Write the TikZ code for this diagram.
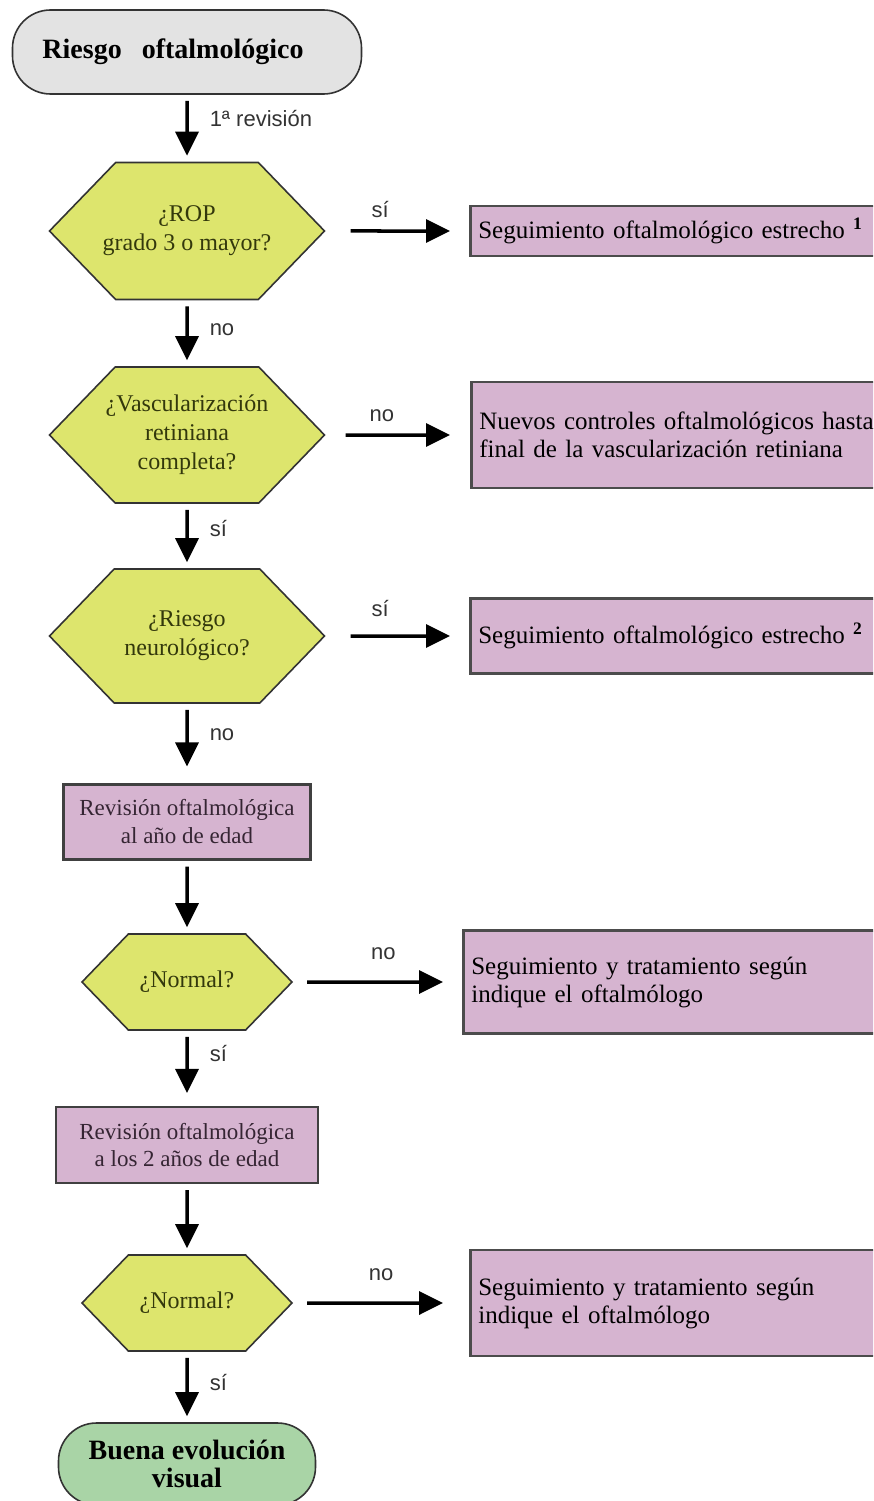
\documentclass[tikz,border=0pt]{standalone}
\usepackage{fontspec}
\setmainfont{Liberation Serif}
\setsansfont{Liberation Sans}
\usetikzlibrary{arrows.meta, shapes.symbols}

\definecolor{grisclaro}{HTML}{E3E3E3}
\definecolor{amarillo}{HTML}{DDE56D}
\definecolor{lila}{HTML}{D6B4D0}
\definecolor{verde}{HTML}{A9D4A6}
\definecolor{oliva}{HTML}{33380C}
\definecolor{moradoosc}{HTML}{352533}

\begin{document}
\begin{tikzpicture}[x=1pt, y=-1pt]
\useasboundingbox (0, 0) rectangle (873, 1501);
\clip (0, 0) rectangle (873, 1501);

\begin{scope}[every node/.style={draw=black!80, line width=1.6pt},
              terminal/.style={shape=rectangle, rounded corners=38pt, align=center, font=\bfseries\fontsize{28}{28}\selectfont},
              hexa/.style={shape=signal, signal to=west and east, signal pointer angle=92, fill=amarillo, text=oliva, align=center, inner sep=0pt, font=\fontsize{24}{29}\selectfont},
              cajaizq/.style={shape=rectangle, fill=lila, draw=black!75, line width=2.2pt, text=moradoosc, align=center, font=\fontsize{23}{28}\selectfont},
              caja/.style={shape=rectangle, anchor=west, fill=lila, draw=black!70, line width=2.6pt, text width=404pt, inner xsep=8pt, inner ysep=0pt, align=left, font=\fontsize{25}{28}\selectfont}]
    \node (inicio) at (187, 52) [terminal, fill=grisclaro, minimum width=349pt, minimum height=84pt] {Riesgo\hspace{20pt}oftalmológico\hspace*{28pt}};

    \node (rop) at (187, 231) [hexa, inner xsep=-13pt, minimum width=275pt, minimum height=137pt] {¿ROP\\grado 3 o mayor?};
    \node (seg1) at (469, 231) [caja, minimum height=50pt] {Seguimiento oftalmológico estrecho \textsuperscript{\textbf{1}}};

    \node (vasc) at (187, 435) [hexa, inner xsep=-11pt, minimum width=275pt, minimum height=136pt] {¿Vascularización\\retiniana\\completa?};
    \node (ctrl) at (470, 435) [caja, minimum height=106pt] {Nuevos controles oftalmológicos hasta\\final de la vascularización retiniana};

    \node (neuro) at (187, 636) [hexa, minimum width=275pt, minimum height=134pt] {¿Riesgo\\neurológico?};
    \node (seg2) at (469, 636) [caja, minimum height=75pt] {Seguimiento oftalmológico estrecho \textsuperscript{\textbf{2}}};

    \node (rev1) at (187, 822) [cajaizq, minimum width=247pt, minimum height=75pt] {Revisión oftalmológica\\al año de edad};

    \node (norm1) at (187, 982) [hexa, minimum width=210pt, minimum height=96pt] {¿Normal?};
    \node (trat1) at (462, 982) [caja, minimum height=103pt] {Seguimiento y tratamiento según\\indique el oftalmólogo};

    \node (rev2) at (187, 1145) [cajaizq, minimum width=262pt, minimum height=76pt] {Revisión oftalmológica\\a los 2 años de edad};

    \node (norm2) at (187, 1303) [hexa, minimum width=210pt, minimum height=96pt] {¿Normal?};
    \node (trat2) at (469, 1303) [caja, minimum height=106pt] {Seguimiento y tratamiento según\\indique el oftalmólogo};

    \node (fin) at (187, 1464) [terminal, fill=verde, minimum width=257pt, minimum height=82pt] {Buena evolución\\visual};
\end{scope}

\begin{scope}[>={Triangle[length=24pt, width=23pt]},
              every node/.style={inner sep=0pt, text=black!80, font=\sffamily\fontsize{22}{26}\selectfont},
              every edge/.style={draw=black, line width=3.5pt, shorten <=6pt, shorten >=6pt}]
    \path [->] (inicio) edge node[right=21pt, pos=.35] {1ª revisión} (rop);
    \path [->] (rop) edge[shorten <=25pt, shorten >=19pt] node[above=12pt, pos=.38] {sí} (seg1);

    \path [->] (rop) edge node[right=21pt, pos=.45] {no} (vasc);
    \path [->] (vasc) edge[shorten <=20pt, shorten >=20pt] node[above=12pt, pos=.39] {no} (ctrl);

    \path [->] (vasc) edge node[right=21pt, pos=.38] {sí} (neuro);
    \path [->] (neuro) edge[shorten <=25pt, shorten >=19pt] node[above=18pt, pos=.38] {sí} (seg2);

    \path [->] (neuro) edge[shorten >=17pt] node[right=21pt, pos=.39] {no} (rev1);
    \path [->] (rev1) edge (norm1);

    \path [->] (norm1) edge[shorten <=14pt, shorten >=19pt] node[above=21pt, pos=.535] {no} (trat1);
    \path [->] (norm1) edge[shorten >=13pt] node[right=21pt, pos=.30] {sí} (rev2);

    \path [->] (rev2) edge (norm2);
    \path [->] (norm2) edge[shorten <=14pt, shorten >=26pt] node[above=21pt, pos=.50] {no} (trat2);
    \path [->] (norm2) edge node[right=21pt, pos=.43] {sí} (fin);
\end{scope}
\end{tikzpicture}
\end{document}
